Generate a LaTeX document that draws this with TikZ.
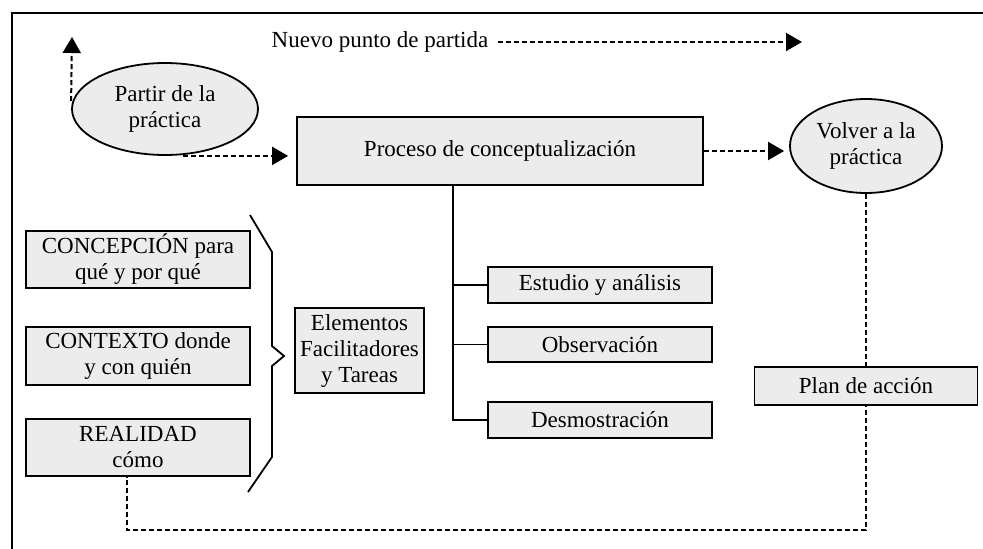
\documentclass[tikz,border=0pt]{standalone}
\usepackage{fontspec}
\setmainfont{Liberation Serif}
\usetikzlibrary{arrows.meta,shapes.geometric,backgrounds,calc}
\definecolor{boxfill}{RGB}{236,236,236}
\begin{document}
\begin{tikzpicture}[x=1pt,y=-1pt,
  every node/.style={font=\fontsize{23}{26}\selectfont, align=center, inner sep=0pt},
  box/.style={draw=black, line width=1.8pt, fill=boxfill, rectangle},
  oval/.style={draw=black, line width=1.8pt, fill=boxfill, ellipse},
  dline/.style={line width=2pt, dash pattern=on 5pt off 3pt},
  darrow/.style={dline, -{Triangle[length=16pt,width=18pt]}},
  solidline/.style={line width=1.8pt}]
\useasboundingbox (0,0) rectangle (983,549);
% frame
\draw[line width=2.6pt] (12,549) -- (12,13) -- (983,13);

% top row
\node (nuevo) at (380,42) {Nuevo punto de partida};
\coordinate (nuevoend) at (802,42);
\coordinate (uptip) at (72,37);
\node[oval, minimum width=186pt, minimum height=92pt] (partir) at (165,109) {Partir de la\\práctica};
\node[box, minimum width=406pt, minimum height=68pt] (proceso) at (500,151) {Proceso de conceptualización};
\node[oval, minimum width=152pt, minimum height=94pt] (volver) at (866,146) {Volver a la\\práctica};

% left column
\node[box, minimum width=224pt, minimum height=57pt] (conc) at (138,259.5) {CONCEPCIÓN para\\qué y por qué};
\node[box, minimum width=224pt, minimum height=58pt] (cont) at (138,356) {CONTEXTO donde\\y con quién};
\node[box, minimum width=224pt, minimum height=57pt] (real) at (138,447.5) {REALIDAD\\cómo};
\node[box, minimum width=129pt, minimum height=85pt] (elem) at (359.5,350.5) {Elementos\\Facilitadores\\y Tareas};

% branches
\node[box, minimum width=224pt, minimum height=36pt] (estu) at (600,285) {Estudio y análisis};
\node[box, minimum width=224pt, minimum height=35pt] (obs) at (600,344.5) {Observación};
\node[box, minimum width=224pt, minimum height=36pt] (desm) at (600,420) {Desmostración};
\node[box, minimum width=223pt, minimum height=38pt] (plan) at (866,386) {Plan de acción};

\coordinate (tx) at (453,185);
\coordinate (bl) at (127,530);
\coordinate (br) at (866,530);

\begin{scope}[on background layer]
  \draw[darrow] ([xshift=10pt]nuevo.east) -- (nuevoend);
  \draw[darrow] (partir.west) ++(0,-8) -- (uptip);
  \draw[darrow, shorten >=8pt] ([xshift=18pt]partir.south) -- (partir.south -| proceso.west);
  \draw[darrow, shorten >=5pt] (proceso.east) -- (proceso.east -| volver.west);
  \draw[solidline] (tx |- proceso.south) -- (tx |- desm.west) -- (desm.west);
  \draw[solidline] (tx |- estu.west) -- (estu.west);
  \draw[solidline] (tx |- obs.west) -- (obs.west);
  \draw[dline] (volver.south) -- (br) -- (bl) -- (bl |- real.south);
\end{scope}

% brace
\draw[solidline] (250,215) -- (272,252) -- (272,346) -- (284,356) -- (272,366) -- (272,457) -- (248,492);
\end{tikzpicture}
\end{document}
